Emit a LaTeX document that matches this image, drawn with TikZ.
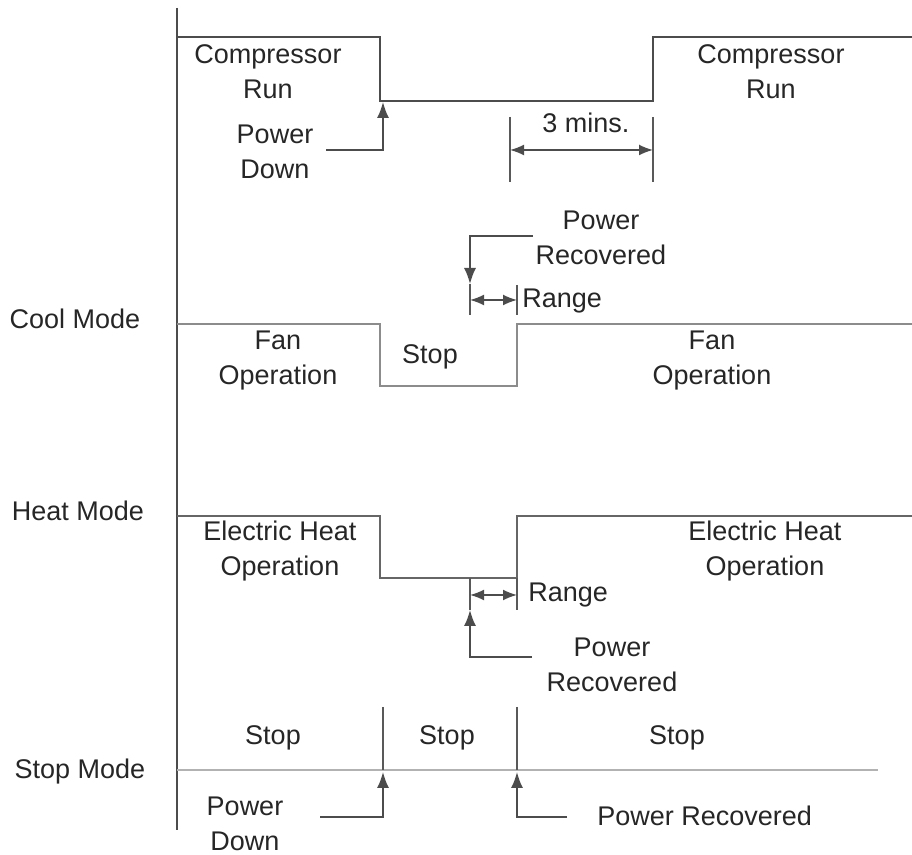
\documentclass[tikz,border=0pt]{standalone}
\usepackage{xcolor}
\usepackage{fontspec}
\setmainfont{Liberation Sans}
\usepackage{tikz}
\usetikzlibrary{arrows.meta}

\tikzset{
    txt/.style={align=center, inner sep=0pt, text=black!85,
        font=\fontsize{13.5}{17.5}\selectfont},
    trace/.style={line width=1pt, draw=black!70},
    fantrace/.style={line width=1.2pt, draw=black!45},
    heattrace/.style={line width=1pt, draw=black!60},
    stoptrace/.style={line width=1.4pt, draw=black!30},
    tick/.style={line width=0.8pt, draw=black!65},
    pointer/.style={line width=0.8pt, draw=black!70, -{Latex[length=8pt,width=6pt]}},
    span/.style={line width=0.8pt, draw=black!70,
        {Latex[length=7pt,width=5.5pt]}-{Latex[length=7pt,width=5.5pt]}}
}

\begin{document}
\begin{tikzpicture}[x=0.5pt, y=-0.5pt]
    \useasboundingbox (0,0) rectangle (912,855);
    \draw[trace] (177,8) -- (177,830);

    % compressor
    \draw[trace] (177,37) -- (380,37) -- (380,101) -- (653,101) -- (653,37) -- (912,37);
    \node[txt] (comp1) at (268,72) {Compressor\\Run};
    \node[txt] (comp2) at (771,72) {Compressor\\Run};
    \node[txt] (pdown1) at (275,152) {Power\\Down};
    \coordinate (pd1a) at (326,150);
    \coordinate (pd1b) at (383,102);
    \draw[pointer] (pd1a) -| (pd1b);
    \coordinate (t3a) at (510,117);
    \coordinate (t3b) at (653,117);
    \draw[tick] (t3a) -- (510,182);
    \draw[tick] (t3b) -- (653,182);
    \draw[span] (510,150) -- (653,150);
    \node[txt] (three) at (586,123) {3 mins.};

    % cool mode
    \node[txt] (cool) at (75,319) {Cool Mode};
    \draw[fantrace] (177,324) -- (380,324) -- (380,386) -- (517,386) -- (517,324) -- (912,324);
    \node[txt] (fan1) at (278,361) {Fan\\Operation};
    \node[txt] (stop1) at (430,357) {Stop};
    \node[txt] (fan2) at (712,361) {Fan\\Operation};
    \node[txt] (prec1) at (601,238) {Power\\Recovered};
    \coordinate (pr1a) at (533,236);
    \coordinate (pr1b) at (470,284);
    \draw[pointer] (pr1a) -| (pr1b);
    \draw[tick] (pr1b) -- (470,315);
    \draw[tick] (517,285) -- (517,315);
    \draw[span] (470,300) -- (517,300);
    \node[txt, anchor=west] (range1) at (522,301) {Range};

    % heat mode
    \node[txt] (heat) at (78,511) {Heat Mode};
    \draw[heattrace] (177,516) -- (380,516) -- (380,578) -- (517,578) -- (517,516) -- (912,516);
    \node[txt] (elec1) at (280,551) {Electric Heat\\Operation};
    \node[txt] (elec2) at (765,551) {Electric Heat\\Operation};
    \coordinate (pr2a) at (532,657);
    \coordinate (pr2b) at (470,610);
    \draw[pointer] (pr2a) -| (pr2b);
    \draw[tick] (470,578) -- (pr2b);
    \draw[tick] (517,578) -- (517,610);
    \draw[span] (470,595) -- (517,595);
    \node[txt, anchor=west] (range2) at (528,595) {Range};
    \node[txt] (prec2) at (612,665) {Power\\Recovered};

    % stop mode
    \node[txt] (stopm) at (80,772) {Stop Mode};
    \draw[stoptrace] (177,770) -- (878,770);
    \draw[tick] (383,707) -- (383,770);
    \draw[tick] (517,707) -- (517,770);
    \node[txt] (stop2) at (273,738) {Stop};
    \node[txt] (stop3) at (447,738) {Stop};
    \node[txt] (stop4) at (677,738) {Stop};
    \node[txt] (pdown2) at (245,824) {Power\\Down};
    \coordinate (pd2a) at (320,817);
    \coordinate (pd2b) at (383,772);
    \draw[pointer] (pd2a) -| (pd2b);
    \coordinate (pr3a) at (567,817);
    \coordinate (pr3b) at (517,772);
    \draw[pointer] (pr3a) -| (pr3b);
    \node[txt, anchor=west] (prec3) at (597,816) {Power Recovered};
\end{tikzpicture}
\end{document}
